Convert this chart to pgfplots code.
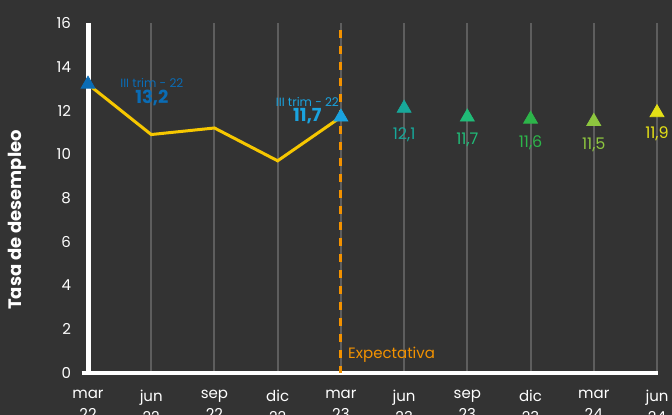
\documentclass[border=0pt]{standalone}
\usepackage{pgfplots}
\pgfplotsset{compat=1.18}
\usepackage{fontspec}
\setmainfont{Poppins}
\definecolor{bg}{HTML}{333333}
\definecolor{gridc}{HTML}{5E5E5E}
\definecolor{blueA}{HTML}{0A6CB5}
\definecolor{blueB}{HTML}{1AA3DF}
\definecolor{tealc}{HTML}{17A89A}
\definecolor{greenA}{HTML}{20BC78}
\definecolor{greenB}{HTML}{2DB54A}
\definecolor{limec}{HTML}{8DC63F}
\definecolor{yelB}{HTML}{E4E016}
\definecolor{linec}{HTML}{F6C700}
\definecolor{orangec}{HTML}{F39200}
\begin{document}
\begin{tikzpicture}
\fill[bg] (-44pt,-21pt) rectangle (292pt,186.5pt);
\begin{axis}[
  at={(0,0)}, anchor=south west, scale only axis,
  width=284.5pt, height=175pt,
  xmin=0, xmax=9, ymin=0, ymax=16,
  axis line style={draw=none},
  tick pos=left, major tick length=0pt,
  xtick={0,1,2,3,4,5,6,7,8,9},
  xticklabels={{mar\\22},{jun\\22},{sep\\22},{dic\\22},{mar\\23},{jun\\23},{sep\\23},{dic\\23},{mar\\24},{jun\\24}},
  ytick={0,2,4,6,8,10,12,14,16},
  xmajorgrids, grid style={color=gridc, line width=1pt},
  tick label style={font=\fontsize{7.5}{9.5}\selectfont, color=white},
  xticklabel style={align=center, yshift=-5pt, font=\fontsize{7.5}{10.5}\selectfont},
  yticklabel style={xshift=-5pt},
  /pgf/number format/assume math mode=true,
  ylabel={Tasa de desempleo},
  ylabel style={at={(axis description cs:-0.1248,0.4375)}, anchor=center, font=\fontsize{9}{10}\selectfont\bfseries, color=white},
  clip=false,
]
\draw[white, line width=2.5pt] (axis cs:0,0) -- (axis cs:0,16);
\draw[white, line width=2.2pt] (axis cs:-0.1,0) -- (axis cs:9.02,0);
\draw[orangec, line width=1.5pt, dash pattern=on 3.8pt off 4.2pt, dash phase=4.5pt] (axis cs:4,16) -- (axis cs:4,0);
\addplot[linec, line width=1.5pt, mark=none] coordinates {(0,13.2) (1,10.9) (2,11.2) (3,9.7) (4,11.7)};
\addplot[blueA, only marks, mark=triangle*, mark size=4pt] coordinates {(0,13.2)};
\addplot[blueB, only marks, mark=triangle*, mark size=4pt] coordinates {(4,11.7)};
\addplot[tealc, only marks, mark=triangle*, mark size=4pt] coordinates {(5,12.1)};
\addplot[greenA, only marks, mark=triangle*, mark size=4pt] coordinates {(6,11.7)};
\addplot[greenB, only marks, mark=triangle*, mark size=4pt] coordinates {(7,11.6)};
\addplot[limec, only marks, mark=triangle*, mark size=4pt] coordinates {(8,11.5)};
\addplot[yelB, only marks, mark=triangle*, mark size=4pt] coordinates {(9,11.9)};
\node[blueA, font=\fontsize{6}{7}\selectfont] at (axis cs:1.01,13.26) {III trim - 22};
\node[blueA, font=\fontsize{9}{10}\selectfont\bfseries] at (axis cs:1.01,12.57) {13,2};
\node[blueB, font=\fontsize{6}{7}\selectfont] at (axis cs:3.47,12.39) {III trim - 22};
\node[blueB, font=\fontsize{9}{10}\selectfont\bfseries] at (axis cs:3.47,11.75) {11,7};
\node[tealc, font=\fontsize{8}{9}\selectfont] at (axis cs:5,10.9) {12,1};
\node[greenA, font=\fontsize{8}{9}\selectfont] at (axis cs:6,10.68) {11,7};
\node[greenB, font=\fontsize{8}{9}\selectfont] at (axis cs:7,10.54) {11,6};
\node[limec, font=\fontsize{8}{9}\selectfont] at (axis cs:8,10.45) {11,5};
\node[yelB, font=\fontsize{8}{9}\selectfont] at (axis cs:9,10.95) {11,9};
\node[orangec, anchor=west, inner sep=0pt, font=\fontsize{7.5}{9}\selectfont] at (axis cs:4.11,0.82) {Expectativa};
\end{axis}
\pgfresetboundingbox
\useasboundingbox (-44pt,-21pt) rectangle (292pt,186.5pt);
\end{tikzpicture}
\end{document}
